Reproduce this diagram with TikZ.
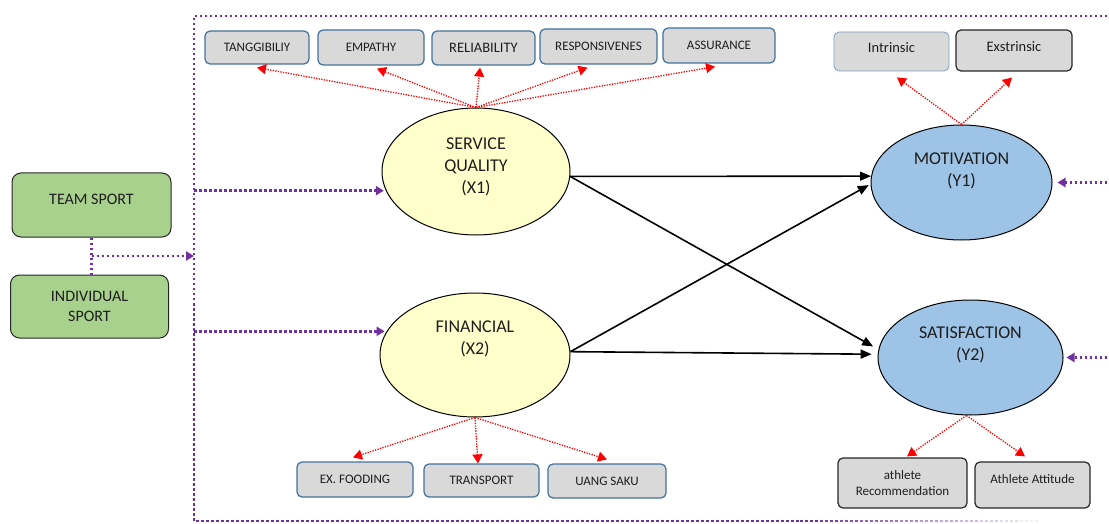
\documentclass[tikz,border=0pt]{standalone}
\usepackage{fontspec}
\setmainfont{Carlito}
\usetikzlibrary{arrows.meta,calc,shapes.geometric}

\definecolor{frameviolet}{HTML}{7030A0}
\definecolor{boxgray}{HTML}{D9D9D9}
\definecolor{boxblue}{HTML}{41719C}
\definecolor{lightedge}{HTML}{7F9FC4}
\definecolor{sportgreen}{HTML}{A9D18E}
\definecolor{latentyellow}{HTML}{FFFFCC}
\definecolor{latentblue}{HTML}{9DC3E6}
\definecolor{linkred}{HTML}{FF0000}
\definecolor{inkgray}{HTML}{1E1E1E}

\tikzset{
  indicator/.style={draw=boxblue, line width=1.2pt, fill=boxgray, rounded corners=5pt,
    inner sep=0pt, text=inkgray, font=\fontsize{13}{16}\selectfont},
  darkedge/.style={draw=black!85},
  sportbox/.style={draw=black!85, line width=1pt, fill=sportgreen, rounded corners=9pt,
    inner sep=0pt, text=inkgray, font=\fontsize{16}{20}\selectfont},
  latent/.style={ellipse, draw=black, line width=1pt, inner sep=0pt},
  latenttext/.style={font=\fontsize{18}{22}\selectfont, align=center, inner sep=0pt, text=inkgray},
  reflect/.style={draw=linkred, line width=1.3pt, dash pattern=on 1.3pt off 1.3pt,
    -{Triangle[length=9pt,width=10pt]}},
  frameline/.style={draw=frameviolet, line width=2.5pt, dash pattern=on 2.5pt off 2.5pt},
  feed/.style={frameline, -{Triangle[length=8pt,width=9pt]}},
  effect/.style={draw=black, line width=1.6pt, -{Triangle[length=11pt,width=9pt]}}
}

\begin{document}
\begin{tikzpicture}[x=1pt,y=-1pt]
\useasboundingbox (0,0) rectangle (1109,524);

% outer dotted frame
\coordinate (ftl) at (194,16);
\coordinate (ftr) at (1112,16);
\coordinate (fbl) at (194,521);
\coordinate (fbe) at (800,521);
\draw[frameline] (ftr) -- (ftl) -- (fbl) -- (fbe);
\foreach \i in {0,...,11} {
  \draw[frameline, draw opacity={1-0.083*\i}] ($(fbe)+(20*\i,0)$) -- ($(fbe)+(20*\i+20,0)$);
}

% sport type boxes
\node[sportbox, minimum width=159pt, minimum height=64pt, text depth=12pt] (team) at (91.5,205) {TEAM SPORT};
\node[sportbox, minimum width=158pt, minimum height=63pt, align=center] (indiv) at (89.5,306.5) {INDIVIDUAL\\SPORT};

% latent variables
\node[latent, fill=latentyellow, minimum width=188pt, minimum height=127pt] (sq) at (476,171.5) {};
\node[latent, fill=latentyellow, minimum width=190pt, minimum height=124pt] (fin) at (475,355) {};
\node[latent, fill=latentblue, minimum width=181pt, minimum height=115pt] (mot) at (961.5,182.5) {};
\node[latent, fill=latentblue, minimum width=185pt, minimum height=115pt] (sat) at (970.5,357.5) {};

\node[latenttext] (sqlabel) at ($(sq.center)+(0,-4.5)$) {SERVICE\\QUALITY\\(X1)};
\node[latenttext] (finlabel) at ($(fin.center)+(0,-16)$) {FINANCIAL\\(X2)};
\node[latenttext] (motlabel) at ($(mot.center)+(0,-11.5)$) {MOTIVATION\\(Y1)};
\node[latenttext] (satlabel) at ($(sat.center)+(0,-12.5)$) {SATISFACTION\\(Y2)};

% service quality indicators
\node[indicator, minimum width=104pt, minimum height=33pt] (tang) at (257,47.5) {TANGGIBILIY};
\node[indicator, minimum width=106pt, minimum height=35pt] (emp) at (371,47.5) {EMPATHY};
\node[indicator, minimum width=103pt, minimum height=34pt, font=\fontsize{14.5}{17}\selectfont] (rel) at (483.5,48) {RELIABILITY};
\node[indicator, minimum width=117pt, minimum height=35pt] (resp) at (598.5,46.5) {RESPONSIVENES};
\node[indicator, minimum width=112pt, minimum height=35pt] (ass) at (719,45.5) {ASSURANCE};

% motivation indicators
\node[indicator, draw=lightedge, line width=0.8pt, minimum width=115pt, minimum height=39pt,
  font=\fontsize{14.5}{17}\selectfont, text depth=7pt] (intr) at (891.5,51.5) {Intrinsic};
\node[indicator, darkedge, minimum width=116pt, minimum height=41pt,
  font=\fontsize{14.5}{17}\selectfont, text depth=7pt] (extr) at (1014,50.5) {Exstrinsic};

% financial indicators
\node[indicator, minimum width=116pt, minimum height=35pt] (food) at (355,479.5) {EX. FOODING};
\node[indicator, minimum width=115pt, minimum height=33pt] (trans) at (481.5,480.5) {TRANSPORT};
\node[indicator, minimum width=118pt, minimum height=34pt] (saku) at (607,481) {UANG SAKU};

% satisfaction indicators
\node[indicator, darkedge, minimum width=129pt, minimum height=50pt, align=center] (recom) at (902.5,483) {athlete\\Recommendation};
\node[indicator, darkedge, minimum width=115pt, minimum height=46pt, text depth=12pt] (att) at (1032.5,485) {Athlete Attitude};

% reflective links
\draw[reflect] (sq.north) -- ([yshift=-3pt]tang.south);
\draw[reflect] (sq.north) -- ([xshift=6pt,yshift=-3pt]emp.south);
\draw[reflect] (sq.north) -- ([xshift=-3.5pt,yshift=-2pt]rel.south);
\draw[reflect] (sq.north) -- ([xshift=-11pt,yshift=-3pt]resp.south);
\draw[reflect] (sq.north) -- ([xshift=-4pt,yshift=-3pt]ass.south);

\draw[reflect] (mot.north) -- ([xshift=5.5pt,yshift=-6pt]intr.south);
\draw[reflect] (mot.north) -- ([xshift=-2pt,yshift=-6pt]extr.south);

\draw[reflect] (fin.south) -- ([xshift=-2pt,yshift=4pt]food.north);
\draw[reflect] (fin.south) -- ([xshift=-3.5pt]trans.north);
\draw[reflect] (fin.south) -- ([yshift=4pt]saku.north);

\draw[reflect] ([xshift=-4pt]sat.south) -- ([xshift=4.5pt,yshift=1pt]recom.north);
\draw[reflect] ([xshift=-4pt]sat.south) -- ([xshift=-7.5pt,yshift=5pt]att.north);

% structural paths
\draw[effect] (sq.-3) -- (mot.176);
\draw[effect, shorten >=6pt] (sq.-3) -- (sat.175);
\draw[effect, shorten >=2pt] (fin.2) -- (mot.181);
\draw[effect, shorten >=6pt] (fin.2) -- (sat.178);

% moderating group feeds
\coordinate (tj) at ($(team.south)!0.5!(team.south |- indiv.north)$);
\draw[frameline] (team.south) -- (team.south |- indiv.north);
\draw[feed] (tj) -- (tj -| ftl);
\draw[feed, shorten >=2pt] (ftl |- sq.192) -- (sq.192);
\draw[feed, shorten >=2pt] (ftl |- fin.165) -- (fin.165);
\draw[feed, shorten >=5pt] (ftr |- mot.east) -- (mot.east);
\draw[feed, shorten >=3pt] (ftr |- sat.east) -- (sat.east);
\end{tikzpicture}
\end{document}
